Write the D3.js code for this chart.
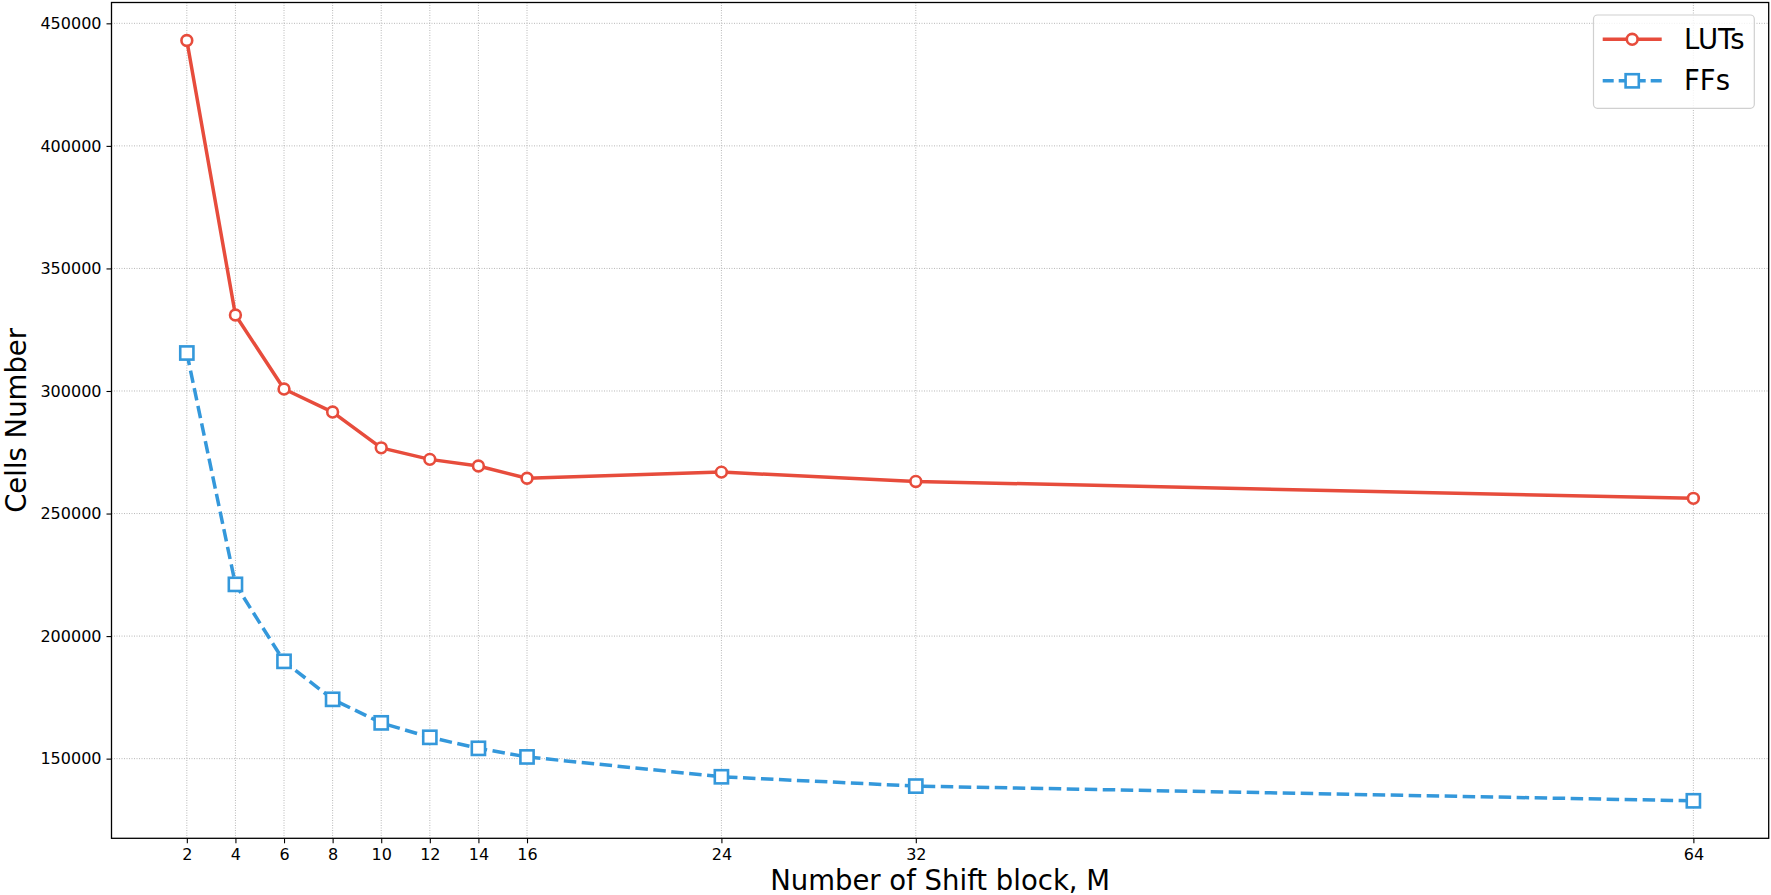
<!DOCTYPE html>
<html>
<head>
<meta charset="utf-8">
<script src="https://cdn.jsdelivr.net/npm/d3@7"></script>
<style>
  html, body { margin: 0; padding: 0; background: #fff; }
  svg { display: block; font-family: "DejaVu Sans", sans-serif; }
</style>
</head>
<body>
<script>
// ---- data ----
const mValues = [2, 4, 6, 8, 10, 12, 14, 16, 24, 32, 64];
const lutValues = [443000, 331000, 300800, 291400, 276800, 272100, 269400, 264400, 266900, 263100, 256200];
const ffValues  = [315500, 221100, 189700, 174200, 164600, 158700, 154200, 150700, 142600, 138800, 132800];
const xTicks = [2, 4, 6, 8, 10, 12, 14, 16, 24, 32, 64];
const yTicks = [150000, 200000, 250000, 300000, 350000, 400000, 450000];
const seriesNames = ["LUTs", "FFs"];
const xLabel = "Number of Shift block, M";
const yLabel = "Cells Number";

// ---- layout ----
const W = 1771, H = 895;
const L = 111.5, R = 1768.7, T = 2.5, B = 838.3;
const red = "#e74c3c", blue = "#3498db";
const lw = 3.5, dash = "12.5,5.5";

const svg = d3.select("body").append("svg").attr("width", W).attr("height", H);

const x = d3.scaleLinear().domain([-1.1, 67.1]).range([L, R]);
const y = d3.scaleLinear().domain([117500, 458500]).range([B, T]);

// grid
const grid = svg.append("g");
grid.selectAll("line.gx").data(xTicks).enter().append("line")
  .attr("x1", d => x(d)).attr("x2", d => x(d)).attr("y1", T).attr("y2", B)
  .attr("stroke", "#b0b0b0").attr("stroke-width", 0.9)
  .attr("stroke-dasharray", "1,1.5");
grid.selectAll("line.gy").data(yTicks).enter().append("line")
  .attr("y1", d => y(d)).attr("y2", d => y(d)).attr("x1", L).attr("x2", R)
  .attr("stroke", "#b0b0b0").attr("stroke-width", 0.9)
  .attr("stroke-dasharray", "1,1.5");

// axes
const xAxis = d3.axisBottom(x).tickValues(xTicks).tickSize(5).tickPadding(5).tickFormat(d3.format("d"));
const yAxis = d3.axisLeft(y).tickValues(yTicks).tickSize(5).tickPadding(5).tickFormat(d3.format("d"));
const gx = svg.append("g").attr("transform", `translate(0,${B})`).call(xAxis);
const gy = svg.append("g").attr("transform", `translate(${L},0)`).call(yAxis);
[gx, gy].forEach(g => {
  g.select(".domain").remove();
  g.selectAll(".tick line").attr("stroke", "#000").attr("stroke-width", 1.1);
  g.selectAll(".tick text").attr("font-size", 16).attr("fill", "#000")
    .attr("font-family", "DejaVu Sans");
});

// frame
svg.append("rect").attr("x", L).attr("y", T).attr("width", R - L).attr("height", B - T)
  .attr("fill", "none").attr("stroke", "#000").attr("stroke-width", 1.3);

// lines
const lutData = mValues.map((m, i) => ({ m, v: lutValues[i] }));
const ffData = mValues.map((m, i) => ({ m, v: ffValues[i] }));
const line = d3.line().x(d => x(d.m)).y(d => y(d.v));

svg.append("path").datum(lutData).attr("d", line)
  .attr("fill", "none").attr("stroke", red).attr("stroke-width", lw).attr("stroke-linejoin", "round");
svg.append("path").datum(ffData).attr("d", line)
  .attr("fill", "none").attr("stroke", blue).attr("stroke-width", lw)
  .attr("stroke-dasharray", dash);

svg.append("g").selectAll("circle").data(lutData).enter().append("circle")
  .attr("cx", d => x(d.m)).attr("cy", d => y(d.v)).attr("r", 5.4)
  .attr("fill", "#fff").attr("stroke", red).attr("stroke-width", 2.6);
const sq = 13.2;
svg.append("g").selectAll("rect").data(ffData).enter().append("rect")
  .attr("x", d => x(d.m) - sq / 2).attr("y", d => y(d.v) - sq / 2)
  .attr("width", sq).attr("height", sq)
  .attr("fill", "#fff").attr("stroke", blue).attr("stroke-width", 2.6);

// axis labels
svg.append("text").attr("x", (L + R) / 2).attr("y", 890).attr("text-anchor", "middle")
  .attr("font-size", 27.5).attr("fill", "#000").text(xLabel);
svg.append("text").attr("transform", `translate(26,${(T + B) / 2}) rotate(-90)`)
  .attr("text-anchor", "middle").attr("font-size", 27.5).attr("fill", "#000").text(yLabel);

// legend
const lg = svg.append("g");
lg.append("rect").attr("x", 1593.5).attr("y", 15).attr("width", 160.8).attr("height", 93.3)
  .attr("rx", 4).attr("fill", "#fff").attr("fill-opacity", 0.8)
  .attr("stroke", "#d0d0d0").attr("stroke-width", 1.2);
const legendRows = [
  { name: seriesNames[0], color: red, dash: null, marker: "circle", yy: 39.3 },
  { name: seriesNames[1], color: blue, dash: "11,5", marker: "square", yy: 80.8 }
];
legendRows.forEach(r => {
  lg.append("line").attr("x1", 1602.7).attr("x2", 1661.7).attr("y1", r.yy).attr("y2", r.yy)
    .attr("stroke", r.color).attr("stroke-width", lw)
    .attr("stroke-dasharray", r.dash);
  if (r.marker === "circle") {
    lg.append("circle").attr("cx", 1632.2).attr("cy", r.yy).attr("r", 5.4)
      .attr("fill", "#fff").attr("stroke", r.color).attr("stroke-width", 2.6);
  } else {
    lg.append("rect").attr("x", 1632.2 - sq / 2).attr("y", r.yy - sq / 2)
      .attr("width", sq).attr("height", sq)
      .attr("fill", "#fff").attr("stroke", r.color).attr("stroke-width", 2.6);
  }
  lg.append("text").attr("x", 1684).attr("y", r.yy + 9.5).attr("font-size", 27.5)
    .attr("fill", "#000").text(r.name);
});
</script>
</body>
</html>
